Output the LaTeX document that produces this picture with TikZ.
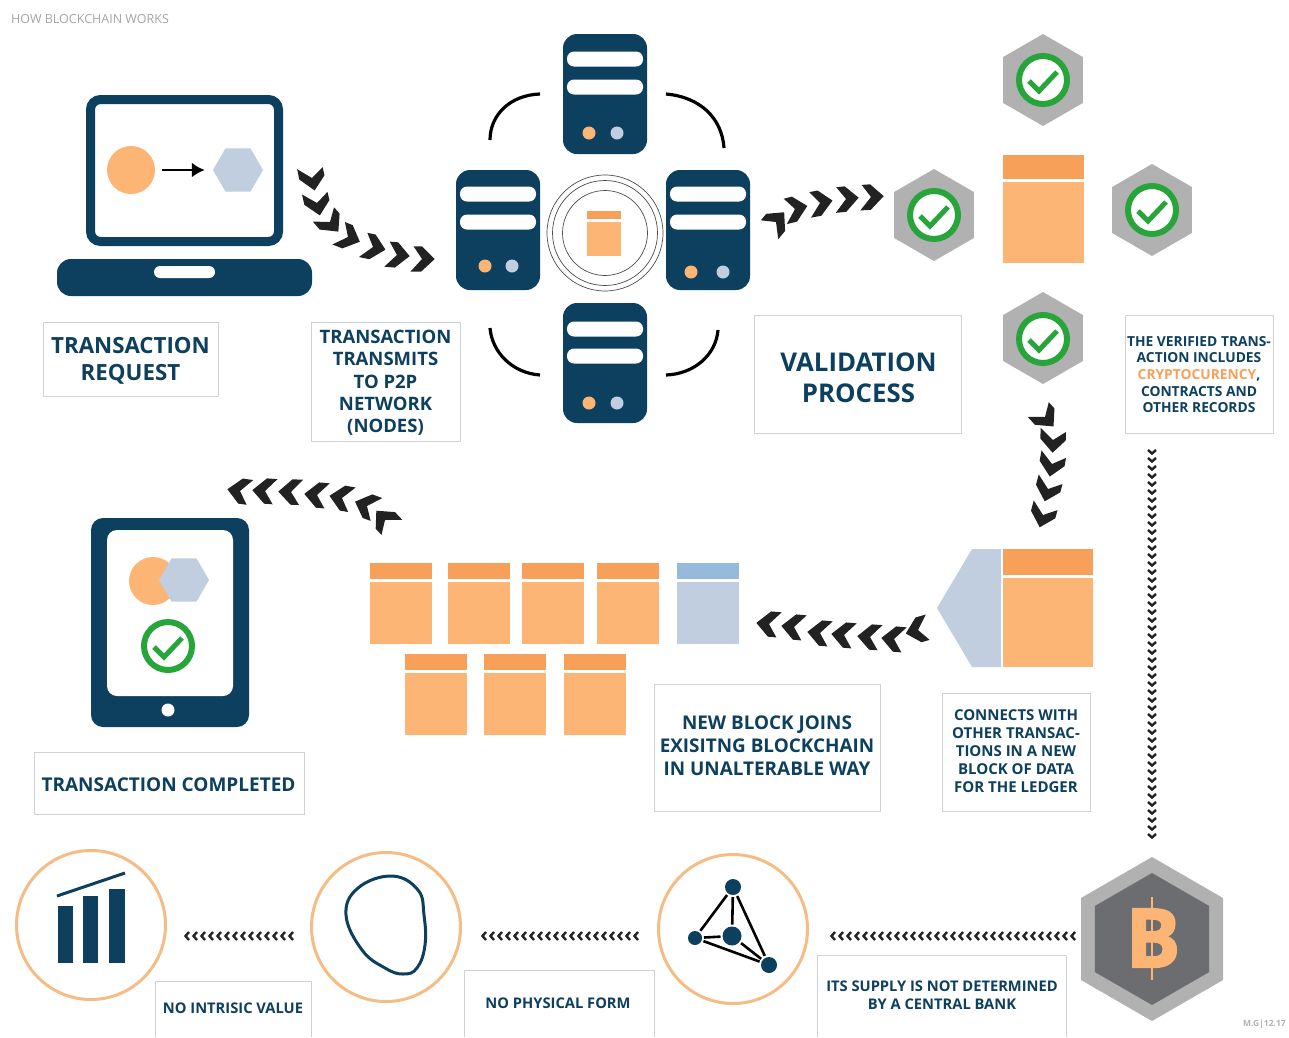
\documentclass[tikz,border=0pt]{standalone}
\usepackage{fontspec}
\setmainfont{Open Sans}
\newfontfamily\heavyfont[FakeBold=2]{Open Sans Bold}
\usepackage{xcolor}
\usetikzlibrary{shapes.geometric, arrows.meta}

\definecolor{navy}{HTML}{0D3F5F}
\definecolor{peach}{HTML}{FDB576}
\definecolor{peachtop}{HTML}{F6A05A}
\definecolor{paleblue}{HTML}{C0CEDF}
\definecolor{bluetop}{HTML}{95BADC}
\definecolor{hexgray}{HTML}{B1B1B1}
\definecolor{hexdark}{HTML}{6B6D70}
\definecolor{okgreen}{HTML}{27A53A}
\definecolor{boxgray}{HTML}{CDD2D6}
\definecolor{ringpeach}{HTML}{F6BC85}
\definecolor{chevblack}{HTML}{222222}

\tikzset{
	lbl/.style={text=navy, align=center, inner sep=0pt},
	lblbox/.style={draw=boxgray, line width=1pt, inner sep=0pt},
	serverbox/.style={fill=navy, rounded corners=14pt, minimum width=84pt, minimum height=120pt, inner sep=0pt},
	slot/.style={fill=white, rounded corners=7pt, minimum width=76pt, minimum height=15pt, inner sep=0pt},
	dot/.style={circle, fill=#1, minimum size=13pt, inner sep=0pt},
	hexa/.style={regular polygon, regular polygon sides=6, inner sep=0pt, minimum size=#1},
	okring/.style={circle, draw=okgreen, fill=white, line width=6pt, minimum size=48pt, inner sep=0pt},
	roundel/.style={circle, draw=ringpeach, line width=3pt, minimum size=149pt, inner sep=0pt},
	peer/.style={circle, fill=navy, inner sep=0pt, outer sep=2pt, minimum size=#1},
	link/.style={black, line width=2.6pt},
	arcline/.style={black, line width=3.2pt}
}

\newcommand{\chev}[3]{
	\fill[chevblack, shift={(#1,#2)}, rotate=#3, scale=1.06] (-8,-12) -- (0,-12) -- (12,0) -- (-1,12) -- (-11,12) -- (0,0) -- cycle;
}
\newcommand{\minichev}[3]{
	\draw[chevblack, line width=2.4pt, shift={(#1,#2)}, rotate=#3] (-2,-4) -- (1.5,0) -- (-2,4);
}
\newcommand{\okmark}[3]{
	\node[okring] (#1) at (#2,#3) {};
	\draw[okgreen, line width=5pt] ([shift={(-14,1)}]#1.center) -- ([shift={(-4,11)}]#1.center) -- ([shift={(14,-8)}]#1.center);
}
\newcommand{\ablock}[3]{
	\fill[peachtop] (#1,#2) rectangle ++(#3,16);
	\fill[peach] (#1,#2+19) rectangle ++(#3,62);
}

\begin{document}
\begin{tikzpicture}[x=1pt, y=-1pt]
	\useasboundingbox[fill=white] (0,0) rectangle (1289,1037);

	\node[anchor=west, text=gray!70, font=\fontsize{12.5}{14}\selectfont, inner sep=0pt] (title) at (11,19) {HOW BLOCKCHAIN WORKS};

	\draw[navy, line width=9pt, rounded corners=10pt] (90.5,99.5) rectangle (278.5,241.5);
	\fill[navy, rounded corners=14pt] (57,259) rectangle (312,296);
	\fill[white, rounded corners=6pt] (154,266) rectangle (215,278);
	\node[circle, fill=peach, minimum size=48pt, inner sep=0pt] (coin) at (131,170) {};
	\node[hexa=50pt, fill=paleblue] (token) at (238,170) {};
	\draw[-{Latex[length=13pt, width=15pt]}, black, line width=2.4pt, shorten <=7pt, shorten >=8pt] (coin) -- (token);

	\foreach \x/\y/\r in {312/178/-78, 317/203/-77, 330/222/-49, 348/237/-22, 373/247/-12, 397/255/-5, 422/259/0}{
		\chev{\x}{\y}{\r}
	}

	\node[serverbox] (srvtop) at (605,94) {};
	\node[serverbox] (srvleft) at (498,230) {};
	\node[serverbox] (srvright) at (708,230) {};
	\node[serverbox] (srvbottom) at (605,363) {};
	\foreach \s/\a/\b in {srvtop/-35/-7, srvleft/-36/-8, srvright/-36/-8, srvbottom/-34/-7}{
		\node[slot] at ([shift={(0,\a)}]\s.center) {};
		\node[slot] at ([shift={(0,\b)}]\s.center) {};
	}
	\foreach \s/\d/\l/\e in {srvtop/39/-16/12, srvleft/36/-13/14, srvright/42/-17/15, srvbottom/40/-16/12}{
		\node[dot=peach] at ([shift={(\l,\d)}]\s.center) {};
		\node[dot=paleblue] at ([shift={(\e,\d)}]\s.center) {};
	}
	\draw[arcline] (540,94) .. controls (510,95) and (490,115) .. (490,140);
	\draw[arcline] (666,94) .. controls (700,97) and (722,118) .. (724,148);
	\draw[arcline] (490,328) .. controls (492,352) and (512,373) .. (540,375);
	\draw[arcline] (718,330) .. controls (716,355) and (694,374) .. (666,375);

	\foreach \r in {58, 52.5, 42.5}
		\draw[black!70, line width=0.7pt] (605,233) circle (\r);
	\fill[peachtop] (587,211) rectangle (621,219);
	\fill[peach] (587,222) rectangle (621,256);

	\foreach \x/\y/\r in {776/222/50, 795/209/14, 820/203/11, 846/199/6, 871/197/4}{
		\chev{\x}{\y}{\r}
	}

	\node[hexa=92pt, fill=hexgray, shape border rotate=30] (hextop) at (1043,80) {};
	\node[hexa=92pt, fill=hexgray, shape border rotate=30] (hexleft) at (934,215) {};
	\node[hexa=92pt, fill=hexgray, shape border rotate=30] (hexright) at (1152,210) {};
	\node[hexa=92pt, fill=hexgray, shape border rotate=30] (hexbottom) at (1043,338) {};
	\okmark{oktop}{1043}{80}
	\okmark{okleft}{934}{215}
	\okmark{okright}{1152}{210}
	\okmark{okbottom}{1043}{339}
	\fill[peachtop] (1003,155) rectangle (1084,179);
	\fill[peach] (1003,182) rectangle (1084,263);

	\node[lblbox, minimum width=175pt, minimum height=74pt] (requestbox) at (130.5,359) {};
	\node[lbl, font=\fontsize{22.3}{27}\bfseries\selectfont] (request) at (130.5,360.5) {TRANSACTION\\REQUEST};
	\node[lblbox, minimum width=149pt, minimum height=119pt] (transmitbox) at (385.5,381.5) {};
	\node[lbl, font=\fontsize{18.5}{22.3}\bfseries\selectfont] (transmit) at (385.5,383) {TRANSACTION\\TRANSMITS\\TO P2P\\NETWORK\\(NODES)};
	\node[lblbox, minimum width=207pt, minimum height=118pt] (validatebox) at (857.5,374) {};
	\node[lbl, font=\fontsize{25.8}{31}\bfseries\selectfont] (validate) at (858.5,377.5) {VALIDATION\\PROCESS};
	\node[lblbox, minimum width=148pt, minimum height=118pt] (verifiedbox) at (1199,374) {};
	\node[lbl, font=\fontsize{13.8}{16.7}\bfseries\selectfont] (verified) at (1199,374.5) {THE VERIFIED TRANS-\\ACTION INCLUDES\\\textcolor{peachtop}{CRYPTOCURENCY},\\CONTRACTS AND\\OTHER RECORDS};

	\foreach \x/\y/\r in {1045/417/-48, 1053/440/-92, 1052/464/-100, 1048/489/-105, 1043/515/-105}{
		\chev{\x}{\y}{\r}
	}
	\foreach \y in {452,460,...,836}{
		\minichev{1152}{\y}{-90}
	}

	\fill[navy, rounded corners=12pt] (91,518) rectangle (249,727);
	\fill[white, rounded corners=10pt] (107,530) rectangle (233,696);
	\node[dot=white] (homekey) at (168,710) {};
	\node[circle, fill=peach, minimum size=48pt, inner sep=0pt] (coindone) at (153,581) {};
	\node[hexa=50pt, fill=paleblue] (tokendone) at (184,580) {};
	\okmark{okdone}{168}{646}

	\foreach \x/\y/\r in {385/520/133, 367/506/160, 342/498/170, 317/495/175, 291/492/178, 265/491/176, 240/491/172}{
		\chev{\x}{\y}{\r}
	}

	\foreach \x in {370,448,522,597}{
		\ablock{\x}{563}{62}
	}
	\fill[bluetop] (677,563) rectangle ++(62,16);
	\fill[paleblue] (677,582) rectangle ++(62,62);
	\foreach \x in {405,484,564}{
		\ablock{\x}{654}{62}
	}

	\foreach \x/\y/\r in {918/630/196, 894/639/175, 870/637/176, 844/635/175, 820/633/175, 794/627/175, 769/624/175}{
		\chev{\x}{\y}{\r}
	}

	\fill[peachtop] (1003,549) rectangle (1093,575);
	\fill[peach] (1003,578) rectangle (1093,667);
	\fill[paleblue] (1001,549) -- (1001,667) -- (972,667) -- (937,608) -- (972,549) -- cycle;

	\node[lblbox, minimum width=270pt, minimum height=62pt] (completedbox) at (169,783) {};
	\node[lbl, font=\fontsize{19}{23}\bfseries\selectfont] (completed) at (168.5,784.5) {TRANSACTION COMPLETED};
	\node[lblbox, minimum width=226pt, minimum height=127pt] (newblockbox) at (767,747.5) {};
	\node[lbl, font=\fontsize{18.9}{23}\bfseries\selectfont] (newblock) at (767,745.5) {NEW BLOCK JOINS\\EXISITNG BLOCKCHAIN\\IN UNALTERABLE WAY};
	\node[lblbox, minimum width=148pt, minimum height=118pt] (connectsbox) at (1016,752) {};
	\node[lbl, font=\fontsize{15}{18}\bfseries\selectfont] (connects) at (1016,751) {CONNECTS WITH\\OTHER TRANSAC-\\TIONS IN A NEW\\BLOCK OF DATA\\FOR THE LEDGER};

	\node[roundel] (value) at (91,925) {};
	\node[roundel] (form) at (386,927) {};
	\node[roundel] (bank) at (733,929) {};

	\fill[navy] (58,906) rectangle (73,963);
	\fill[navy] (83,896) rectangle (98,963);
	\fill[navy] (109,889) rectangle (125,963);
	\draw[navy, line width=3pt] (57,896) -- (125,873);

	\draw[navy, line width=3pt] plot[smooth cycle, tension=0.7] coordinates {(392,876) (418,890) (424,915) (425,945) (417,968) (403,974) (385,968) (362,950) (346,915) (358,888)};

	\node[peer=16pt] (peertop) at (733,887) {};
	\node[peer=14pt] (peerleft) at (695,938) {};
	\node[peer=19pt] (peermid) at (732,936) {};
	\node[peer=16pt] (peerright) at (769,965) {};
	\draw[link] (peertop) -- (peerleft);
	\draw[link] (peertop) -- (peermid);
	\draw[link] (peertop) -- (peerright);
	\draw[link] (peerleft) -- (peermid);
	\draw[link] (peerleft) -- (peerright);
	\draw[link] (peermid) -- (peerright);

	\foreach \x in {187,195,...,291}{
		\minichev{\x}{936}{180}
	}
	\foreach \x in {484,492,...,640}{
		\minichev{\x}{936}{180}
	}
	\foreach \x in {833,841,...,1073}{
		\minichev{\x}{936}{180}
	}

	\draw[boxgray, line width=1pt] (155,1037) |- (311,981) -- (311,1037);
	\draw[boxgray, line width=1pt] (464,1037) |- (654,970) -- (654,1037);
	\draw[boxgray, line width=1pt] (817,1037) |- (1066,955) -- (1066,1037);
	\node[lbl, font=\fontsize{14.7}{18}\bfseries\selectfont] (intrinsic) at (233,1008) {NO INTRISIC VALUE};
	\node[lbl, font=\fontsize{14.7}{18}\bfseries\selectfont] (physical) at (558,1003) {NO PHYSICAL FORM};
	\node[lbl, font=\fontsize{14.7}{18}\bfseries\selectfont] (supply) at (942,995) {ITS SUPPLY IS NOT DETERMINED\\BY A CENTRAL BANK};

	\node[hexa=164pt, fill=hexgray, shape border rotate=30] (coinouter) at (1152,939) {};
	\node[hexa=132pt, fill=hexdark, shape border rotate=30] (coininner) at (1152,939) {};
	\node[text=peach, font=\fontsize{82}{82}\heavyfont\selectfont, inner sep=0pt] (btc) at (1153,938) {B};
	\draw[peach, line width=2.5pt] (1152,897) -- (1152,980);

	\node[anchor=east, text=gray!60, font=\fontsize{8.5}{10}\bfseries\selectfont, inner sep=0pt] (credit) at (1286,1024) {M.G|12.17};
\end{tikzpicture}
\end{document}
